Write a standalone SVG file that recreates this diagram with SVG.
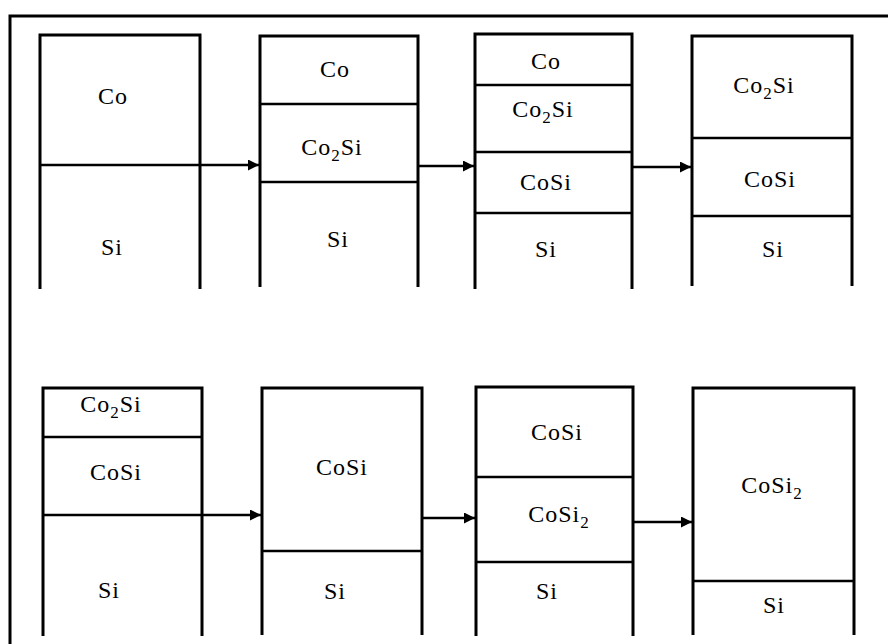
<svg xmlns="http://www.w3.org/2000/svg" width="888" height="644" viewBox="0 0 888 644">
<style>
.box{fill:none;stroke:#000;stroke-width:3;stroke-linejoin:miter}
.div{stroke:#000;stroke-width:2.5}
.con{stroke:#000;stroke-width:2.5;fill:none}
.frame{stroke:#000;stroke-width:3;fill:none}
text{font-family:"Liberation Serif","Times New Roman",serif;font-size:24px;letter-spacing:1px;text-anchor:middle;fill:#000}
.sub{font-size:17px}
</style>
<defs>
<marker id="ah" viewBox="0 0 10 10" refX="10" refY="5" markerWidth="11" markerHeight="11" markerUnits="userSpaceOnUse" orient="auto">
<path d="M0,0 L10,5 L0,10 z" fill="#000"/>
</marker>
</defs>
<rect width="888" height="644" fill="#fff"/>
<path class="frame" d="M10,644 V16 H888"/>

<g id="box1">
<path class="box" d="M40,289 V35 H200 V289"/>
<text x="113" y="104">Co</text>
<text x="112" y="255">Si</text>
</g>
<g id="box2">
<path class="box" d="M260,287 V36 H418 V287"/>
<line class="div" x1="260" y1="104" x2="418" y2="104"/>
<line class="div" x1="260" y1="182" x2="418" y2="182"/>
<text x="335" y="77">Co</text>
<text x="332" y="155">Co<tspan class="sub" dy="6">2</tspan><tspan dy="-6">Si</tspan></text>
<text x="338" y="247">Si</text>
</g>
<g id="box3">
<path class="box" d="M475,289 V34 H632 V289"/>
<line class="div" x1="475" y1="85" x2="632" y2="85"/>
<line class="div" x1="475" y1="152" x2="632" y2="152"/>
<line class="div" x1="475" y1="213" x2="632" y2="213"/>
<text x="546" y="69">Co</text>
<text x="543" y="117">Co<tspan class="sub" dy="6">2</tspan><tspan dy="-6">Si</tspan></text>
<text x="546" y="190">CoSi</text>
<text x="546" y="257">Si</text>
</g>
<g id="box4">
<path class="box" d="M692,286 V36 H852 V286"/>
<line class="div" x1="692" y1="138" x2="852" y2="138"/>
<line class="div" x1="692" y1="216" x2="852" y2="216"/>
<text x="764" y="93">Co<tspan class="sub" dy="6">2</tspan><tspan dy="-6">Si</tspan></text>
<text x="770" y="187">CoSi</text>
<text x="773" y="257">Si</text>
</g>
<g id="box5">
<path class="box" d="M43,636 V388 H202 V636"/>
<line class="div" x1="43" y1="437" x2="202" y2="437"/>
<text x="111" y="412">Co<tspan class="sub" dy="6">2</tspan><tspan dy="-6">Si</tspan></text>
<text x="116" y="480">CoSi</text>
<text x="109" y="598">Si</text>
</g>
<g id="box6">
<path class="box" d="M262,635 V388 H422 V635"/>
<line class="div" x1="262" y1="551" x2="422" y2="551"/>
<text x="342" y="475">CoSi</text>
<text x="335" y="599">Si</text>
</g>
<g id="box7">
<path class="box" d="M476,636 V387 H633 V636"/>
<line class="div" x1="476" y1="477" x2="633" y2="477"/>
<line class="div" x1="476" y1="562" x2="633" y2="562"/>
<text x="557" y="440">CoSi</text>
<text x="559" y="522">CoSi<tspan class="sub" dy="6">2</tspan></text>
<text x="547" y="599">Si</text>
</g>
<g id="box8">
<path class="box" d="M693,635 V388 H854 V635"/>
<line class="div" x1="693" y1="581" x2="854" y2="581"/>
<text x="772" y="493">CoSi<tspan class="sub" dy="6">2</tspan></text>
<text x="774" y="613">Si</text>
</g>

<g id="connectors">
<line class="con" x1="40" y1="165" x2="259" y2="165" marker-end="url(#ah)"/>
<line class="con" x1="418" y1="166" x2="474" y2="166" marker-end="url(#ah)"/>
<line class="con" x1="632" y1="167" x2="691" y2="167" marker-end="url(#ah)"/>
<line class="con" x1="43" y1="515" x2="261" y2="515" marker-end="url(#ah)"/>
<line class="con" x1="422" y1="518" x2="475" y2="518" marker-end="url(#ah)"/>
<line class="con" x1="633" y1="522" x2="692" y2="522" marker-end="url(#ah)"/>
</g>
</svg>
